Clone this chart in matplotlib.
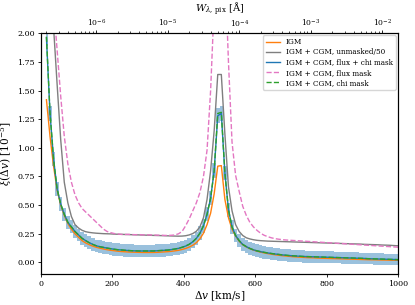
import numpy as np
import matplotlib
matplotlib.use("Agg")
import matplotlib.pyplot as plt

plt.rcParams['font.family'] = ['DejaVu Serif']
plt.rcParams['mathtext.fontset'] = 'dejavuserif'

# velocity bins [km/s]
dv = np.arange(15, 1006, 10)

xi_igm = [
    1.42, 1.10, 0.84, 0.63, 0.50, 0.41, 0.34, 0.29, 0.25, 0.22,
    0.19, 0.17, 0.155, 0.142, 0.132, 0.124, 0.117, 0.111, 0.106, 0.102,
    0.098, 0.095, 0.093, 0.091, 0.090, 0.089, 0.088, 0.087, 0.087, 0.087,
    0.087, 0.088, 0.090, 0.092, 0.094, 0.097, 0.101, 0.106, 0.113, 0.122,
    0.134, 0.150, 0.172, 0.205, 0.255, 0.330, 0.430, 0.600, 0.840, 0.845,
    0.550, 0.390, 0.290, 0.230, 0.185, 0.155, 0.135, 0.120, 0.108, 0.098,
    0.090, 0.083, 0.077, 0.072, 0.067, 0.063, 0.059, 0.056, 0.053, 0.050,
    0.048, 0.046, 0.044, 0.042, 0.041, 0.040, 0.038, 0.037, 0.036, 0.035,
    0.034, 0.033, 0.032, 0.031, 0.030, 0.029, 0.028, 0.027, 0.026, 0.025,
    0.024, 0.023, 0.023, 0.022, 0.021, 0.021, 0.020, 0.019, 0.019, 0.018,
]

# unmasked IGM + CGM, already divided by 50
xi_unmasked = [
    3.20, 2.60, 2.05, 1.55, 1.07, 0.70, 0.52, 0.40, 0.33, 0.30,
    0.280, 0.268, 0.262, 0.258, 0.255, 0.253, 0.251, 0.250, 0.249, 0.247,
    0.246, 0.245, 0.244, 0.243, 0.242, 0.241, 0.240, 0.239, 0.238, 0.237,
    0.236, 0.235, 0.234, 0.233, 0.232, 0.231, 0.230, 0.229, 0.230, 0.233,
    0.240, 0.252, 0.272, 0.310, 0.390, 0.550, 0.800, 1.150, 1.640, 1.640,
    1.120, 0.660, 0.450, 0.330, 0.270, 0.235, 0.215, 0.205, 0.198, 0.193,
    0.190, 0.188, 0.186, 0.185, 0.184, 0.183, 0.182, 0.181, 0.180, 0.179,
    0.178, 0.177, 0.176, 0.175, 0.174, 0.173, 0.172, 0.171, 0.170, 0.169,
    0.168, 0.167, 0.166, 0.165, 0.164, 0.163, 0.162, 0.161, 0.160, 0.158,
    0.157, 0.156, 0.155, 0.154, 0.152, 0.151, 0.150, 0.148, 0.146, 0.144,
]

xi_fluxchi = [
    1.96, 1.30, 0.90, 0.64, 0.51, 0.42, 0.35, 0.31, 0.27, 0.24,
    0.21, 0.19, 0.172, 0.157, 0.145, 0.137, 0.131, 0.125, 0.120, 0.115,
    0.111, 0.109, 0.106, 0.104, 0.102, 0.101, 0.100, 0.100, 0.100, 0.100,
    0.100, 0.102, 0.104, 0.106, 0.108, 0.112, 0.117, 0.123, 0.132, 0.143,
    0.158, 0.180, 0.210, 0.255, 0.320, 0.420, 0.560, 0.800, 1.280, 1.300,
    0.780, 0.460, 0.310, 0.235, 0.190, 0.157, 0.138, 0.122, 0.110, 0.101,
    0.094, 0.088, 0.083, 0.078, 0.074, 0.070, 0.066, 0.063, 0.060, 0.058,
    0.056, 0.054, 0.052, 0.051, 0.050, 0.049, 0.048, 0.047, 0.046, 0.045,
    0.044, 0.043, 0.042, 0.041, 0.040, 0.039, 0.038, 0.037, 0.036, 0.035,
    0.033, 0.032, 0.031, 0.030, 0.029, 0.028, 0.027, 0.026, 0.025, 0.024,
]

err_fluxchi = [
    0.070, 0.065, 0.062, 0.060, 0.058, 0.057, 0.056, 0.056, 0.055, 0.055,
    0.055, 0.055, 0.055, 0.055, 0.055, 0.055, 0.055, 0.055, 0.055, 0.055,
    0.055, 0.055, 0.055, 0.055, 0.055, 0.055, 0.055, 0.055, 0.055, 0.055,
    0.055, 0.055, 0.055, 0.055, 0.055, 0.055, 0.055, 0.056, 0.056, 0.057,
    0.057, 0.058, 0.058, 0.059, 0.060, 0.060, 0.062, 0.064, 0.066, 0.066,
    0.064, 0.062, 0.060, 0.059, 0.058, 0.058, 0.057, 0.057, 0.056, 0.056,
    0.056, 0.056, 0.055, 0.055, 0.055, 0.055, 0.055, 0.054, 0.054, 0.054,
    0.054, 0.054, 0.053, 0.053, 0.053, 0.053, 0.053, 0.052, 0.052, 0.052,
    0.052, 0.052, 0.051, 0.051, 0.051, 0.051, 0.051, 0.050, 0.050, 0.050,
    0.050, 0.050, 0.050, 0.049, 0.049, 0.049, 0.049, 0.049, 0.048, 0.048,
]

xi_flux = [
    3.50, 2.85, 2.25, 1.85, 1.45, 1.10, 0.86, 0.70, 0.59, 0.52,
    0.47, 0.44, 0.41, 0.38, 0.35, 0.32, 0.29, 0.27, 0.26, 0.252,
    0.248, 0.245, 0.244, 0.245, 0.243, 0.242, 0.243, 0.240, 0.241, 0.240,
    0.239, 0.238, 0.238, 0.236, 0.235, 0.237, 0.240, 0.250, 0.270, 0.320,
    0.380, 0.450, 0.520, 0.610, 0.750, 0.980, 1.500, 2.250, 3.100, 3.200,
    2.600, 1.750, 1.050, 0.760, 0.620, 0.490, 0.410, 0.350, 0.310, 0.280,
    0.255, 0.237, 0.225, 0.215, 0.208, 0.203, 0.199, 0.196, 0.194, 0.192,
    0.190, 0.188, 0.186, 0.184, 0.182, 0.180, 0.178, 0.176, 0.174, 0.172,
    0.170, 0.168, 0.166, 0.164, 0.162, 0.160, 0.158, 0.156, 0.154, 0.152,
    0.150, 0.148, 0.146, 0.144, 0.142, 0.140, 0.138, 0.136, 0.134, 0.132,
]

xi_chi = [
    1.97, 1.31, 0.90, 0.64, 0.51, 0.42, 0.35, 0.31, 0.27, 0.24,
    0.21, 0.19, 0.172, 0.157, 0.145, 0.137, 0.131, 0.125, 0.120, 0.115,
    0.111, 0.109, 0.106, 0.104, 0.102, 0.101, 0.100, 0.100, 0.100, 0.100,
    0.100, 0.102, 0.104, 0.106, 0.108, 0.112, 0.117, 0.123, 0.132, 0.143,
    0.158, 0.180, 0.210, 0.255, 0.320, 0.420, 0.560, 0.800, 1.300, 1.310,
    0.780, 0.460, 0.310, 0.235, 0.190, 0.157, 0.138, 0.122, 0.110, 0.101,
    0.094, 0.088, 0.083, 0.078, 0.074, 0.070, 0.066, 0.063, 0.060, 0.058,
    0.056, 0.054, 0.052, 0.051, 0.050, 0.049, 0.048, 0.047, 0.046, 0.045,
    0.044, 0.043, 0.042, 0.041, 0.040, 0.039, 0.038, 0.037, 0.036, 0.035,
    0.033, 0.032, 0.031, 0.030, 0.029, 0.028, 0.027, 0.026, 0.025, 0.024,
]

fig = plt.figure(figsize=(4.15, 3.05), dpi=100)
ax = fig.add_axes([0.099, 0.102, 0.860, 0.789])

lo = np.array(xi_fluxchi) - np.array(err_fluxchi)
hi = np.array(xi_fluxchi) + np.array(err_fluxchi)
ax.fill_between(dv, lo, hi, step='mid', color='C0', alpha=0.45, lw=0)

ax.plot(dv, xi_igm, color='C1', lw=1.0, label='IGM')
ax.plot(dv, xi_unmasked, color='C7', lw=1.0, label='IGM + CGM, unmasked/50')
ax.plot(dv, xi_fluxchi, color='C0', lw=1.0, label='IGM + CGM, flux + chi mask')
ax.plot(dv, xi_flux, color='C6', lw=1.0, ls='--', label='IGM + CGM, flux mask')
ax.plot(dv, xi_chi, color='C2', lw=1.0, ls='--', label='IGM + CGM, chi mask')

ax.set_xlim(0, 1000)
ax.set_ylim(-0.1, 2.0)
ax.set_yticks(np.arange(0, 2.01, 0.25))
ax.set_xlabel(r'$\Delta v$ [km/s]', fontsize=7.6, labelpad=1)
ax.set_ylabel(r'$\xi(\Delta v)$ [$10^{-5}$]', fontsize=7.6, labelpad=2)
ax.tick_params(labelsize=5.8, length=2.5, width=0.6, pad=2)

ax.legend(loc='upper right', fontsize=5.2, labelspacing=0.3,
          handlelength=2.0, borderaxespad=0.3, framealpha=0.8)

# pixel equivalent width on top
ax2 = ax.twiny()
ax2.set_xscale('log')
ax2.set_xlim(1.68e-7, 1.67e-2)
ax2.set_xlabel(r'$W_{\lambda,\,\mathrm{pix}}$ [Å]', fontsize=7.2)
ax2.xaxis.set_label_coords(0.5, 1.085)
ax2.tick_params(which='major', labelsize=5.5, length=2.2, width=0.6, pad=1.2)
ax2.tick_params(which='minor', length=1.4, width=0.5)

fig.savefig('out.png', dpi=100)
